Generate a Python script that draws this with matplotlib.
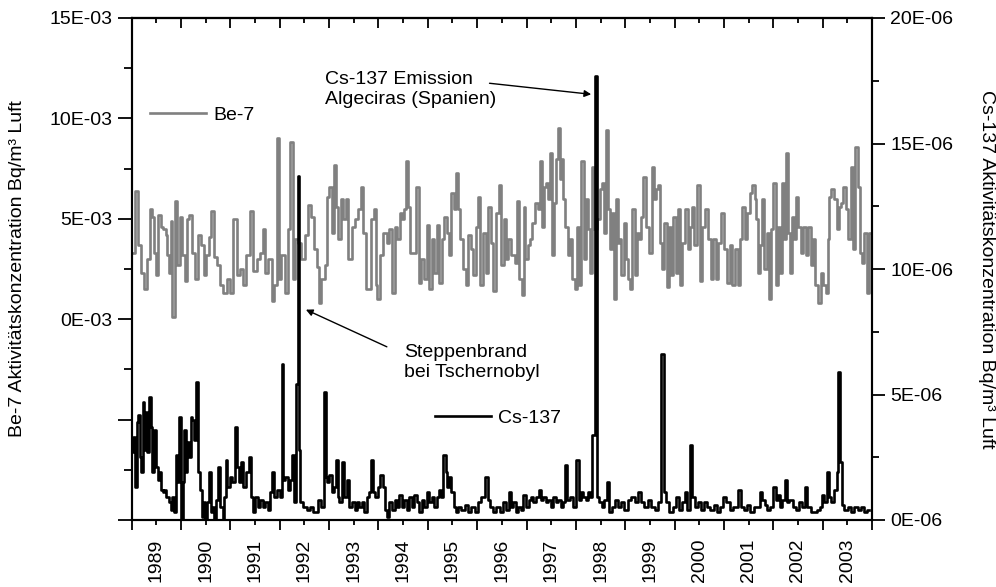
import numpy as np
import matplotlib
matplotlib.use("Agg")
import matplotlib.pyplot as plt
from matplotlib.ticker import FuncFormatter, MultipleLocator

plt.rcParams['font.family'] = ['Liberation Sans', 'DejaVu Sans']

# Be-7 (E-03 Bq/m3)
be7_year = [
    1989.03, 1989.10, 1989.17, 1989.22, 1989.27, 1989.34, 1989.40, 1989.44, 1989.47, 1989.51,
    1989.56, 1989.61, 1989.67, 1989.71, 1989.74, 1989.78, 1989.81, 1989.84, 1989.90, 1989.94,
    1990.00, 1990.05, 1990.11, 1990.15, 1990.19, 1990.25, 1990.32, 1990.38, 1990.44, 1990.48,
    1990.55, 1990.59, 1990.63, 1990.69, 1990.75, 1990.82, 1990.89, 1990.96, 1991.02, 1991.09,
    1991.16, 1991.23, 1991.29, 1991.36, 1991.43, 1991.50, 1991.56, 1991.63, 1991.68, 1991.73,
    1991.80, 1991.87, 1991.90, 1991.97, 1992.00, 1992.07, 1992.14, 1992.18, 1992.25, 1992.29,
    1992.34, 1992.41, 1992.47, 1992.54, 1992.60, 1992.66, 1992.71, 1992.78, 1992.81, 1992.88,
    1992.95, 1992.98, 1993.03, 1993.08, 1993.12, 1993.15, 1993.22, 1993.25, 1993.32, 1993.35,
    1993.42, 1993.49, 1993.55, 1993.62, 1993.66, 1993.72, 1993.79,
    1993.89, 1993.93, 1993.96, 1993.99, 1994.06, 1994.13, 1994.20, 1994.23, 1994.30, 1994.35,
    1994.40, 1994.47, 1994.50, 1994.53, 1994.59, 1994.62, 1994.67, 1994.74, 1994.80, 1994.84,
    1994.90, 1994.94, 1995.01, 1995.04, 1995.11, 1995.16, 1995.21, 1995.26, 1995.31, 1995.36,
    1995.41, 1995.44, 1995.50, 1995.55, 1995.60, 1995.63, 1995.68, 1995.75, 1995.79, 1995.85,
    1995.90, 1995.95, 1996.00, 1996.04, 1996.09, 1996.15, 1996.20, 1996.25, 1996.31, 1996.35,
    1996.42, 1996.46, 1996.51, 1996.58, 1996.60, 1996.66, 1996.73, 1996.79, 1996.83, 1996.87,
    1996.93, 1996.95, 1997.00, 1997.05, 1997.10, 1997.14, 1997.20, 1997.25, 1997.28, 1997.33,
    1997.38, 1997.41, 1997.46, 1997.50, 1997.54, 1997.59, 1997.62, 1997.65, 1997.69, 1997.72,
    1997.75, 1997.81, 1997.86, 1997.91, 1997.95, 1998.01, 1998.04, 1998.08, 1998.13, 1998.18,
    1998.22, 1998.26, 1998.31, 1998.35, 1998.40, 1998.47, 1998.51, 1998.55, 1998.58, 1998.63,
    1998.67, 1998.72, 1998.76, 1998.80, 1998.83, 1998.87,
    1998.89, 1998.94, 1998.99, 1999.03, 1999.07, 1999.12, 1999.17, 1999.21, 1999.26, 1999.30,
    1999.34, 1999.39, 1999.44, 1999.51, 1999.56, 1999.59, 1999.64, 1999.68, 1999.71, 1999.76,
    1999.82, 1999.86, 1999.90, 1999.95, 2000.00, 2000.05, 2000.09, 2000.13, 2000.18, 2000.24,
    2000.29, 2000.34, 2000.37, 2000.42, 2000.47, 2000.54, 2000.59, 2000.65, 2000.71, 2000.76,
    2000.81, 2000.86, 2000.91, 2000.98, 2001.03, 2001.10, 2001.15, 2001.19, 2001.25, 2001.30,
    2001.35, 2001.40, 2001.45, 2001.50, 2001.55, 2001.60, 2001.64, 2001.67, 2001.71, 2001.75,
    2001.79, 2001.84, 2001.89, 2001.92, 2001.98, 2002.02, 2002.07, 2002.12, 2002.16, 2002.19,
    2002.23, 2002.27, 2002.31, 2002.36, 2002.40, 2002.45, 2002.48, 2002.53, 2002.58, 2002.63,
    2002.68, 2002.73, 2002.79, 2002.83, 2002.88, 2002.93, 2002.99, 2003.04, 2003.08, 2003.12,
    2003.15, 2003.20, 2003.26, 2003.31, 2003.35, 2003.39, 2003.44, 2003.49, 2003.54, 2003.60,
    2003.64, 2003.69, 2003.73, 2003.78, 2003.81, 2003.87, 2003.91, 2003.95,
]
be7_val = [
    3.3, 6.4, 3.7, 2.3, 1.5, 3.0, 5.5, 5.1, 3.3, 2.2,
    5.2, 4.6, 4.5, 4.2, 3.2, 2.3, 4.9, 0.1, 5.9, 2.7,
    5.1, 3.2, 1.9, 5.0, 5.2, 3.3, 2.0, 4.2, 3.7, 2.2,
    3.2, 4.1, 5.4, 3.1, 2.7, 1.7, 1.3, 2.0, 1.3, 5.0,
    2.2, 2.5, 1.7, 3.2, 5.4, 2.4, 3.0, 3.3, 4.5, 2.3,
    3.0, 0.9, 1.7, 9.0, 2.0, 3.2, 1.3, 4.5, 8.8, 2.0,
    4.0, 3.8, 3.0, 4.2, 5.7, 5.1, 3.5, 2.6, 0.8, 2.0,
    2.7, 6.1, 6.6, 4.3, 7.7, 5.6, 4.0, 6.0, 5.0, 6.0,
    3.0, 4.6, 5.0, 5.5, 6.6, 4.3, 1.5,
    5.0, 5.5, 1.7, 1.0, 3.2, 4.3, 3.8, 4.5, 1.3, 4.6,
    4.0, 5.3, 5.0, 5.5, 7.9, 5.6, 3.3, 3.3, 6.6, 1.8,
    3.0, 2.0, 4.7, 1.5, 4.0, 2.3, 4.7, 1.8, 4.0, 5.1,
    4.3, 3.2, 6.3, 5.5, 7.3, 5.5, 4.0, 2.5, 1.7, 4.2,
    3.5, 2.2, 4.6, 6.1, 1.7, 4.3, 2.3, 5.6, 3.8, 1.4,
    5.3, 6.7, 2.7, 5.0, 3.0, 4.0, 3.2, 2.8, 5.9, 2.0,
    1.2, 5.6, 3.0, 3.7, 4.0, 4.8, 5.8, 5.5, 7.9, 4.6,
    6.6, 6.8, 6.0, 8.3, 3.2, 5.8, 8.0, 9.5, 7.0, 8.0,
    6.0, 4.6, 3.2, 4.0, 2.0, 1.5, 4.6, 1.7, 7.9, 3.0,
    6.0, 4.5, 2.3, 7.6, 4.5, 5.0, 6.5, 6.8, 4.3, 9.4,
    5.5, 3.5, 5.3, 1.0, 6.0, 3.8,
    4.0, 2.2, 4.8, 3.0, 2.0, 1.5, 5.5, 2.2, 4.3, 4.0,
    5.1, 7.1, 4.6, 3.3, 7.6, 6.0, 6.5, 6.7, 3.8, 2.5,
    4.8, 1.6, 4.6, 2.2, 5.1, 2.3, 5.5, 1.7, 3.8, 5.5,
    3.5, 4.6, 5.6, 3.7, 6.7, 1.9, 4.6, 5.5, 4.0, 2.0,
    4.0, 2.0, 3.8, 5.3, 3.5, 1.8, 3.7, 1.7, 3.5, 1.7,
    4.0, 5.6, 4.0, 5.3, 6.3, 6.7, 6.0, 5.0, 2.3, 3.7,
    6.0, 2.5, 4.3, 1.0, 4.5, 6.8, 1.7, 4.6, 2.3, 6.8,
    4.0, 8.3, 4.3, 2.3, 5.1, 4.0, 6.1, 4.6, 3.3, 4.6,
    3.2, 4.6, 2.7, 4.0, 1.7, 0.8, 2.3, 1.7, 1.3, 4.0,
    6.1, 6.5, 6.0, 4.5, 5.6, 5.8, 6.6, 5.5, 4.0, 7.6,
    3.5, 8.6, 6.6, 3.3, 2.8, 4.3, 1.3, 4.3,
]

# Cs-137 (E-06 Bq/m3)
cs_year = [
    1989.01, 1989.05, 1989.08, 1989.12, 1989.15, 1989.17, 1989.20, 1989.24, 1989.27, 1989.30,
    1989.34, 1989.37, 1989.40, 1989.44, 1989.47, 1989.51, 1989.54, 1989.57, 1989.61, 1989.64,
    1989.67, 1989.73, 1989.78, 1989.81, 1989.84, 1989.88, 1989.91, 1989.94, 1989.98, 1990.01,
    1990.05, 1990.08, 1990.11, 1990.15, 1990.18, 1990.21, 1990.25, 1990.28, 1990.34, 1990.36,
    1990.40, 1990.44, 1990.47, 1990.52, 1990.55, 1990.59, 1990.62, 1990.65, 1990.69, 1990.72,
    1990.77, 1990.82, 1990.86, 1990.89, 1990.92, 1990.96, 1991.01, 1991.06, 1991.11, 1991.15,
    1991.19, 1991.24, 1991.29, 1991.35, 1991.40, 1991.43, 1991.48, 1991.53, 1991.58, 1991.63,
    1991.69, 1991.73, 1991.78, 1991.83, 1991.87, 1991.91, 1991.97, 1992.02, 1992.06, 1992.09,
    1992.14, 1992.18, 1992.23, 1992.27, 1992.32, 1992.35, 1992.37, 1992.39, 1992.44, 1992.51,
    1992.58, 1992.64, 1992.70, 1992.74, 1992.81, 1992.87, 1992.91, 1992.95, 1992.98, 1993.03,
    1993.07, 1993.11, 1993.15, 1993.19, 1993.23, 1993.28, 1993.32, 1993.39, 1993.43, 1993.49,
    1993.54, 1993.59, 1993.64, 1993.69, 1993.74, 1993.79, 1993.82, 1993.86, 1993.91, 1993.96,
    1994.01, 1994.06, 1994.11, 1994.15, 1994.20, 1994.24, 1994.30, 1994.35, 1994.40, 1994.45,
    1994.50, 1994.55, 1994.60, 1994.65, 1994.70, 1994.76, 1994.80, 1994.85, 1994.90, 1994.96,
    1995.01, 1995.05, 1995.11, 1995.16, 1995.21, 1995.25, 1995.29, 1995.34, 1995.38, 1995.41,
    1995.44, 1995.50, 1995.55, 1995.59, 1995.65, 1995.71, 1995.78, 1995.85, 1995.92, 1995.98,
    1996.05, 1996.12, 1996.19, 1996.24, 1996.29, 1996.35, 1996.42, 1996.49, 1996.56, 1996.61,
    1996.66, 1996.70, 1996.76, 1996.81, 1996.86, 1996.91, 1996.96, 1997.02, 1997.06, 1997.11,
    1997.16, 1997.22, 1997.27, 1997.31, 1997.37, 1997.42, 1997.47, 1997.51, 1997.57, 1997.62,
    1997.67, 1997.72, 1997.76, 1997.81, 1997.85, 1997.91, 1997.96, 1998.03, 1998.08, 1998.12,
    1998.18, 1998.23, 1998.28, 1998.31, 1998.34, 1998.37, 1998.40, 1998.45, 1998.50, 1998.55,
    1998.60, 1998.65, 1998.70, 1998.75, 1998.82, 1998.89, 1998.95, 1999.02, 1999.09, 1999.16,
    1999.22, 1999.29, 1999.36, 1999.42, 1999.49, 1999.56, 1999.63, 1999.69, 1999.76, 1999.81,
    1999.86, 1999.93, 2000.00, 2000.05, 2000.12, 2000.19, 2000.23, 2000.29, 2000.34, 2000.38,
    2000.44, 2000.50, 2000.57, 2000.63, 2000.69, 2000.76, 2000.83, 2000.90, 2000.96, 2001.01,
    2001.08, 2001.15, 2001.21, 2001.26, 2001.31, 2001.37, 2001.44, 2001.50, 2001.57, 2001.64,
    2001.71, 2001.75, 2001.80, 2001.85, 2001.91, 2001.96, 2002.02, 2002.07, 2002.11, 2002.16,
    2002.21, 2002.25, 2002.29, 2002.36, 2002.43, 2002.50, 2002.56, 2002.62, 2002.66, 2002.72,
    2002.79, 2002.85, 2002.92, 2002.97, 2003.00, 2003.06, 2003.10, 2003.15, 2003.20, 2003.26,
    2003.31, 2003.33, 2003.37, 2003.41, 2003.47, 2003.54, 2003.61, 2003.68, 2003.74, 2003.81,
    2003.88, 2003.93,
]
cs_val = [
    2.7, 3.3, 1.3, 3.9, 4.2, 2.5, 1.9, 4.7, 2.8, 4.3,
    2.7, 4.9, 3.7, 1.9, 3.6, 2.1, 1.6, 1.9, 1.2, 1.1,
    1.2, 0.9, 0.7, 0.4, 0.9, 0.3, 2.6, 1.5, 4.1, 0.05,
    1.5, 3.6, 1.9, 3.1, 2.5, 4.1, 4.0, 3.2, 5.5, 1.9,
    1.2, 0.1, 0.7, 0.02, 0.7, 1.9, 0.3, 0.5, 0.02, 0.8,
    2.1, 0.5, 0.02, 0.9, 2.4, 1.3, 1.7, 1.5, 3.7, 2.1,
    1.5, 2.3, 1.3, 1.9, 2.5, 0.9, 0.3, 0.9, 0.5, 0.8,
    0.5, 0.7, 0.4, 1.1, 1.9, 0.9, 1.2, 0.9, 6.2, 1.6,
    1.7, 1.2, 1.6, 2.6, 0.7, 5.4, 13.7, 2.8, 0.7, 0.5,
    0.4, 0.5, 0.3, 0.3, 0.8, 0.5, 5.1, 1.7, 1.5, 1.8,
    1.1, 1.3, 2.4, 0.9, 0.7, 2.3, 0.9, 1.6, 0.5, 0.7,
    0.4, 0.7, 0.5, 0.7, 0.3, 0.9, 1.1, 2.4, 1.1, 0.9,
    1.3, 1.8, 1.3, 0.4, 0.1, 0.7, 0.4, 0.8, 0.5, 1.0,
    0.5, 0.8, 0.4, 0.9, 0.5, 1.0, 0.7, 0.3, 0.8, 0.5,
    1.1, 0.7, 0.9, 0.5, 0.9, 1.2, 0.9, 2.6, 1.9, 1.3,
    1.7, 1.1, 0.5, 0.3, 0.5, 0.4, 0.6, 0.3, 0.5, 0.3,
    0.7, 0.9, 1.7, 0.8, 0.5, 0.3, 0.5, 0.3, 0.7, 0.4,
    1.1, 0.5, 0.7, 0.3, 0.5, 0.4, 1.0, 0.5, 0.8, 0.9,
    0.7, 0.9, 1.2, 0.8, 0.9, 0.7, 0.8, 0.5, 0.9, 0.7,
    0.8, 0.5, 0.7, 2.2, 0.8, 0.9, 0.5, 2.4, 0.8, 1.1,
    0.9, 0.8, 1.1, 0.9, 3.4, 3.4, 17.7, 0.9, 0.7, 0.5,
    0.8, 1.5, 0.3, 0.5, 0.8, 0.5, 0.7, 0.4, 0.8, 0.9,
    0.7, 1.1, 0.7, 0.5, 0.8, 0.5, 0.4, 0.7, 6.6, 1.1,
    0.7, 0.3, 0.5, 0.9, 0.4, 0.7, 1.1, 0.4, 3.0, 0.9,
    0.5, 0.7, 0.4, 0.7, 0.5, 0.4, 0.6, 0.3, 0.5, 0.9,
    0.7, 0.4, 0.5, 0.5, 1.2, 0.5, 0.4, 0.6, 0.3, 0.5,
    0.5, 1.1, 0.8, 0.6, 0.4, 0.5, 1.3, 0.8, 1.0, 0.5,
    0.8, 1.6, 0.7, 0.8, 0.5, 0.4, 0.7, 0.5, 1.3, 0.5,
    0.3, 0.3, 0.4, 0.5, 1.0, 0.7, 1.9, 0.9, 0.7, 1.2,
    1.9, 5.9, 2.3, 0.6, 0.4, 0.5, 0.3, 0.5, 0.4, 0.5,
    0.3, 0.4,
]

years = list(range(1989, 2004))
year_labels = [str(y) for y in years]

be7_color = '#808080'
fs = 14

fig = plt.figure(figsize=(9.96, 5.87), dpi=100)
ax = fig.add_axes([131.7 / 996, 1 - 520 / 587, 740.3 / 996, 502 / 587])
ax2 = ax.twinx()

ax.plot(be7_year, be7_val, color=be7_color, lw=1.9, drawstyle='steps-mid', label='Be-7')
ax2.plot(cs_year, cs_val, color='black', lw=1.9, drawstyle='steps-mid', label='Cs-137')

ax.set_xlim(1989, 2004)
ax.set_ylim(-10, 15)
ax2.set_ylim(0, 20)

# x axis: ticks at year boundaries, labels mid-year
ax.set_xticks(np.arange(1989, 2005))
ax.set_xticklabels([])
ax.set_xticks(np.array(years) + 0.5, labels=year_labels, minor=True)
ax.tick_params(axis='x', which='major', direction='out', length=7, width=1.3)
ax.tick_params(axis='x', which='minor', direction='out', length=3.5, width=1.3,
               labelrotation=90, pad=10, labelsize=fs)

top = ax.secondary_xaxis('top')
top.set_xticks(np.arange(1989, 2005))
top.set_xticks(np.array(years) + 0.5, minor=True)
top.tick_params(which='major', direction='in', length=7, width=1.3, labeltop=False)
top.tick_params(which='minor', direction='in', length=3.5, width=1.3, labeltop=False)
top.spines['top'].set_linewidth(1.5)

# left axis
ax.set_yticks([-10, -5, 0, 5, 10, 15])
ax.yaxis.set_minor_locator(MultipleLocator(2.5))
ax.yaxis.set_major_formatter(FuncFormatter(lambda v, p: f"{int(round(v))}E-03" if v >= 0 else ""))
ax.tick_params(axis='y', which='major', direction='out', length=10, width=1.3, labelsize=fs, pad=4)
ax.tick_params(axis='y', which='minor', direction='out', length=6, width=1.3)

# right axis
ax2.set_yticks([0, 5, 10, 15, 20])
ax2.yaxis.set_minor_locator(MultipleLocator(2.5))
ax2.yaxis.set_major_formatter(FuncFormatter(lambda v, p: f"{int(round(v))}E-06"))
ax2.tick_params(axis='y', which='major', direction='out', length=9, width=1.3, labelsize=fs, pad=4)
ax2.tick_params(axis='y', which='minor', direction='out', length=5, width=1.3)

for a in (ax, ax2):
    for s in a.spines.values():
        s.set_linewidth(1.5)

fig.text(18 / 996, 1 - 269 / 587, 'Be-7 Aktivitätskonzentration Bq/m³ Luft',
         rotation=90, ha='center', va='center', fontsize=fs)
fig.text(986 / 996, 1 - 269 / 587, 'Cs-137 Aktivitätskonzentration Bq/m³ Luft',
         rotation=270, ha='center', va='center', fontsize=fs)

# legends
ax.legend(loc='center left', bbox_to_anchor=(0.0247, 0.807), frameon=False, fontsize=fs,
          handlelength=2.9, handletextpad=0.35, borderpad=0, borderaxespad=0)
ax2.legend(loc='center left', bbox_to_anchor=(0.4097, 0.203), frameon=False, fontsize=fs,
           handlelength=2.9, handletextpad=0.35, borderpad=0, borderaxespad=0)

# annotations
ax2.text(1992.91, 17.14, 'Cs-137 Emission\nAlgeciras (Spanien)', ha='left', va='center',
         fontsize=fs, linespacing=1.25)
ax2.annotate('', xy=(1998.31, 16.96), xytext=(1996.25, 17.40),
             arrowprops=dict(arrowstyle='-|>', color='black', lw=1.0,
                             mutation_scale=10, shrinkA=0, shrinkB=0))
ax2.text(1994.51, 6.28, 'Steppenbrand\nbei Tschernobyl', ha='left', va='center',
         fontsize=fs, linespacing=1.25)
ax2.annotate('', xy=(1992.53, 8.38), xytext=(1994.17, 6.90),
             arrowprops=dict(arrowstyle='-|>', color='black', lw=1.0,
                             mutation_scale=10, shrinkA=0, shrinkB=0))

fig.savefig('out.png', dpi=100)
